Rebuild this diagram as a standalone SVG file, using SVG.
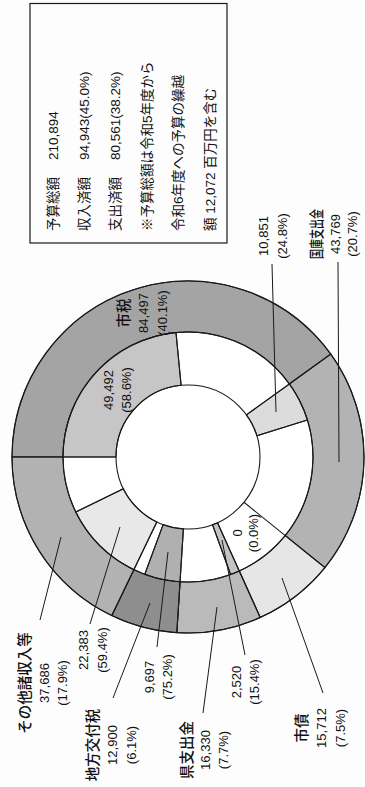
<svg xmlns="http://www.w3.org/2000/svg" width="365" height="787" viewBox="0 0 365 787">
<style>
.bg{fill:#fdfdfd}
.sep{stroke:#1a1a1a;stroke-width:1.1;fill:none}
.seg{stroke:#1a1a1a;stroke-width:1.1}
.lead{stroke:#1a1a1a;stroke-width:1;fill:none}
.t{font-family:"Liberation Sans","Noto Sans CJK JP",sans-serif;font-size:13px;fill:#111}
.jp{font-family:"Noto Sans CJK JP",sans-serif;font-size:14.5px;font-weight:500}
.bx{font-family:"Liberation Sans","Noto Sans CJK JP",sans-serif;font-size:13.5px;fill:#111}
</style>
<rect class="bg" x="0" y="0" width="365" height="787"/>

<g id="legend">
<rect x="30" y="3.5" width="197" height="239.5" fill="none" stroke="#1a1a1a" stroke-width="1.2"/>
<g transform="translate(0,231) rotate(-90)" class="bx">
<text x="0" y="58">予算総額<tspan x="71">210,894</tspan></text>
<text x="0" y="89">収入済額<tspan x="71">94,943(45.0%)</tspan></text>
<text x="0" y="120">支出済額<tspan x="71">80,561(38.2%)</tspan></text>
<text x="0" y="152">※予算総額は令和5年度から</text>
<text x="0" y="183">令和6年度への予算の繰越</text>
<text x="0" y="215">額 12,072 百万円を含む</text>
</g>
</g>

<g id="ring">
<circle cx="188" cy="457" r="125" fill="#fff"/>
</g>

<g id="shizei">
<path class="seg" fill="#a4a4a4" d="M12,457 A176,176 0 0 1 330.8,354.1 L289.4,383.95 A125,125 0 0 0 63,457 Z"/>
<path class="seg" fill="#c6c6c6" d="M63,457 A125,125 0 0 1 176,332.6 L181.1,385.3 A72,72 0 0 0 116,457 Z"/>
<text class="t" transform="translate(129,313) rotate(-90)" text-anchor="middle"><tspan class="jp" x="0" y="0">市税</tspan><tspan x="0" y="19">84,497</tspan><tspan x="0" y="38">(40.1%)</tspan></text>
<text class="t" transform="translate(113,390) rotate(-90)" text-anchor="middle"><tspan x="0" y="0">49,492</tspan><tspan x="0" y="17.5">(58.6%)</tspan></text>
</g>

<g id="kokko">
<path class="seg" fill="#b3b3b3" d="M330.8,354.1 A176,176 0 0 1 324.9,567.6 L285.2,535.6 A125,125 0 0 0 289.4,383.95 Z"/>
<path class="seg" fill="#dcdcdc" d="M289.4,383.95 A125,125 0 0 1 307.4,419.95 L256.8,435.7 A72,72 0 0 0 246.4,414.9 Z"/>
<text class="t" transform="translate(322,234) rotate(-90)" text-anchor="middle"><tspan class="jp" x="0" y="0" textLength="50" lengthAdjust="spacingAndGlyphs">国庫支出金</tspan><tspan x="0" y="17.5">43,769</tspan><tspan x="0" y="35">(20.7%)</tspan></text>
<text class="t" transform="translate(268,236) rotate(-90)" text-anchor="middle"><tspan x="0" y="0">10,851</tspan><tspan x="0" y="19">(24.8%)</tspan></text>
</g>

<g id="shisai">
<path class="seg" fill="#e6e6e6" d="M324.9,567.6 A176,176 0 0 1 260.2,617.5 L239.3,571 A125,125 0 0 0 285.2,535.6 Z"/>
<text class="t" transform="translate(307,728) rotate(-90)" text-anchor="middle"><tspan class="jp" x="0" y="0">市債</tspan><tspan x="0" y="19">15,712</tspan><tspan x="0" y="38">(7.5%)</tspan></text>
<text class="t" transform="translate(242,533) rotate(-90)" text-anchor="middle"><tspan x="0" y="0">0</tspan><tspan x="0" y="16">(0.0%)</tspan></text>
</g>

<g id="kenshishutsu">
<path class="seg" fill="#bababa" d="M260.2,617.5 A176,176 0 0 1 176.8,632.6 L180.05,581.75 A125,125 0 0 0 239.3,571 Z"/>
<path class="seg" fill="#c4c4c4" d="M239.3,571 A125,125 0 0 1 230.6,574.5 L212.5,524.7 A72,72 0 0 0 217.5,522.7 Z"/>
<text class="t" transform="translate(192,750) rotate(-90)" text-anchor="middle"><tspan class="jp" x="0" y="0">県支出金</tspan><tspan x="0" y="18">16,330</tspan><tspan x="0" y="36">(7.7%)</tspan></text>
<text class="t" transform="translate(241,682) rotate(-90)" text-anchor="middle"><tspan x="0" y="0">2,520</tspan><tspan x="0" y="18">(15.4%)</tspan></text>
</g>

<g id="chihou">
<path class="seg" fill="#8e8e8e" d="M176.8,632.6 A176,176 0 0 1 111.8,615.6 L133.85,569.66 A125,125 0 0 0 180.05,581.75 Z"/>
<path class="seg" fill="#b0b0b0" d="M180.05,581.75 A125,125 0 0 1 144.8,574.3 L163.1,524.6 A72,72 0 0 0 183.4,528.9 Z"/>
<text class="t" transform="translate(98,745) rotate(-90)" text-anchor="middle"><tspan class="jp" x="0" y="0">地方交付税</tspan><tspan x="0" y="19">12,900</tspan><tspan x="0" y="38">(6.1%)</tspan></text>
<text class="t" transform="translate(154,677) rotate(-90)" text-anchor="middle"><tspan x="0" y="0">9,697</tspan><tspan x="0" y="18">(75.2%)</tspan></text>
</g>

<g id="sonota">
<path class="seg" fill="#b2b2b2" d="M111.8,615.6 A176,176 0 0 1 12,457 L63,457 A125,125 0 0 0 133.85,569.66 Z"/>
<path class="seg" fill="#e8e8e8" d="M133.85,569.66 A125,125 0 0 1 75.8,512 L123.4,488.7 A72,72 0 0 0 156.8,521.9 Z"/>
<text class="t" transform="translate(30,683) rotate(-90)" text-anchor="middle"><tspan class="jp" x="0" y="0">その他諸収入等</tspan><tspan x="0" y="18.5">37,686</tspan><tspan x="0" y="37">(17.9%)</tspan></text>
<text class="t" transform="translate(88,650) rotate(-90)" text-anchor="middle"><tspan x="0" y="0">22,383</tspan><tspan x="0" y="19">(59.4%)</tspan></text>
</g>

<g id="connectors">
<circle class="sep" cx="188" cy="457" r="176"/>
<circle class="sep" cx="188" cy="457" r="125"/>
<circle class="sep" cx="188" cy="457" r="72" fill="#fff"/>
<path class="sep" d="M12,457 L116,457 M330.8,354.1 L246.4,414.9 M324.9,567.6 L244,502.3 M260.2,617.5 L217.5,522.7 M176.8,632.6 L183.4,528.9 M111.8,615.6 L156.8,521.9 M176,332.6 L181.1,385.3 M307.4,419.95 L256.8,435.7 M230.6,574.5 L212.5,524.7 M144.8,574.3 L163.1,524.6 M75.8,512 L123.4,488.7"/>
<path class="lead" d="M272,264 L276,412 M338,262 L339,462 M40,620 L61,537 M90,624 L120,527 M113,698 L150,603 M157,647 L168,552 M203,713 L217,607 M245,655 L222,540 M323,693 L282,578"/>
</g>
</svg>
